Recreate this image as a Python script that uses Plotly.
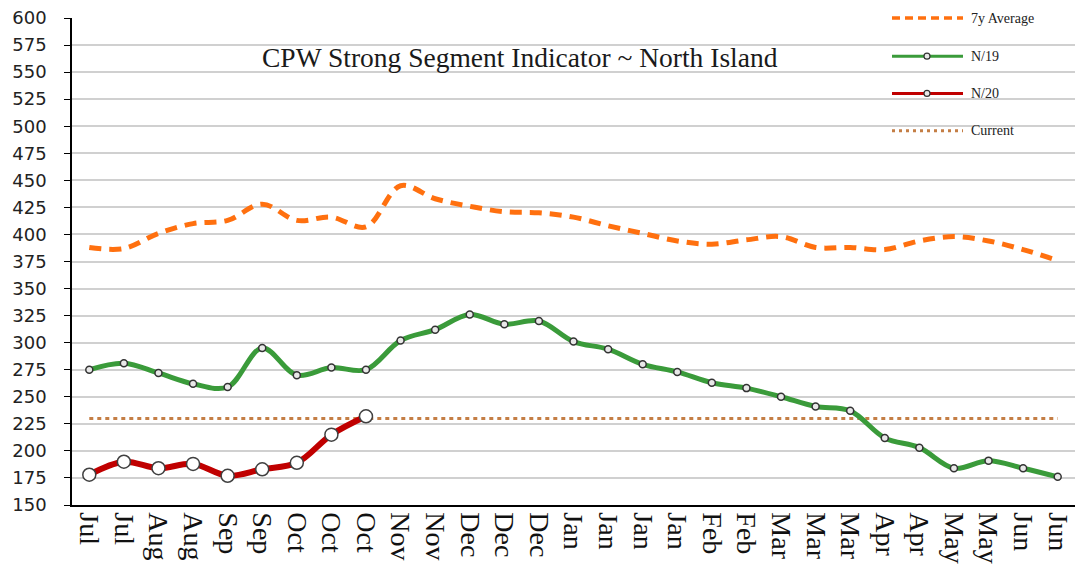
import plotly.graph_objects as go

labels = ["Jul", "Jul", "Aug", "Aug", "Sep", "Sep", "Oct", "Oct", "Oct", "Nov", "Nov",
          "Dec", "Dec", "Dec", "Jan", "Jan", "Jan", "Jan", "Feb", "Feb", "Mar", "Mar",
          "Mar", "Apr", "Apr", "May", "May", "Jun", "Jun"]

avg_7y = [388, 387, 401, 410, 413, 428, 413, 416, 407, 445, 433, 426, 421, 420, 416,
          408, 401, 394, 391, 395, 398, 388, 388, 386, 394, 398, 394, 386, 376]

n19 = [275, 281, 272, 262, 259, 295, 270, 277, 275, 302, 312, 326, 317, 320, 301,
       294, 280, 273, 263, 258, 250, 241, 237, 212, 203, 184, 191, 184, 176]

n20 = [178, 190, 184, 188, 177, 183, 189, 215, 232]

current_level = 230

title_text = "CPW Strong Segment Indicator ~ North Island"
legend_names = ["7y Average", "N/19", "N/20", "Current"]

ORANGE = "#FF700F"
GREEN = "#3A9B3A"
RED = "#C00000"
BROWN = "#C47E45"

x_all = list(range(len(labels)))

fig = go.Figure()

fig.add_trace(go.Scatter(
    x=x_all, y=[current_level] * len(labels), mode="lines",
    line=dict(color=BROWN, width=3, dash="4px,4px"), name=legend_names[3],
    showlegend=False))

fig.add_trace(go.Scatter(
    x=x_all, y=avg_7y, mode="lines",
    line=dict(color=ORANGE, width=5, shape="spline", smoothing=1.0, dash="12px,8px"),
    name=legend_names[0], showlegend=False))

fig.add_trace(go.Scatter(
    x=x_all, y=n19, mode="lines+markers",
    line=dict(color=GREEN, width=5, shape="spline", smoothing=1.0),
    marker=dict(size=7, color="#E8E8E8", line=dict(color="#333333", width=1.5)),
    name=legend_names[1], showlegend=False))

fig.add_trace(go.Scatter(
    x=x_all[:len(n20)], y=n20, mode="lines+markers",
    line=dict(color=RED, width=6, shape="spline", smoothing=1.0),
    marker=dict(size=13, color="white", line=dict(color="#404040", width=1.5)),
    name=legend_names[2], showlegend=False))

# page geometry (body margin removed, figure at 0,0)
W, H = 1081, 570
PLOT_L, PLOT_R, PLOT_T, PLOT_B = 72, 1075, 18, 515
L, R, T, B = PLOT_L, W - PLOT_R, PLOT_T, H - PLOT_B
pw = PLOT_R - PLOT_L
ph = PLOT_B - PLOT_T


def px_x(p):
    return (p - PLOT_L) / pw


def px_y(p):
    return (PLOT_B - p) / ph


shapes = []
# white box behind title
shapes.append(dict(type="rect", xref="paper", yref="paper",
                   x0=px_x(222), x1=px_x(795), y0=px_y(86), y1=px_y(34),
                   fillcolor="white", line=dict(width=0), layer="between"))
# white box behind legend
shapes.append(dict(type="rect", xref="paper", yref="paper",
                   x0=px_x(880), x1=px_x(1055), y0=px_y(146), y1=px_y(0),
                   fillcolor="white", line=dict(width=0), layer="between"))

leg_y = [18, 57, 95, 133]
leg_styles = [
    dict(color=ORANGE, width=3.5, dash="8px,5px"),
    dict(color=GREEN, width=3),
    dict(color=RED, width=3),
    dict(color=BROWN, width=3, dash="3px,4px"),
]
annotations = []
for yy, st, nm in zip(leg_y, leg_styles, legend_names):
    shapes.append(dict(type="line", xref="paper", yref="paper",
                       x0=px_x(892), x1=px_x(963), y0=px_y(yy), y1=px_y(yy),
                       line=st, layer="above"))
    annotations.append(dict(text=nm, xref="paper", yref="paper", x=px_x(969), y=px_y(yy),
                            xanchor="left", yanchor="middle", showarrow=False,
                            font=dict(family="Liberation Serif", size=14, color="#222222")))
for yy in [57, 95]:
    shapes.append(dict(type="circle", xref="paper", yref="paper", xsizemode="pixel",
                       ysizemode="pixel", xanchor=px_x(927), yanchor=px_y(yy),
                       x0=-3, x1=3, y0=-3, y1=3, fillcolor="#E8E8E8",
                       line=dict(color="#333333", width=1.2), layer="above"))

annotations.append(dict(text=title_text, xref="paper", yref="paper",
                        x=px_x(520), y=px_y(58), xanchor="center", yanchor="middle",
                        showarrow=False,
                        font=dict(family="Liberation Serif", size=27.5, color="#1a1a1a")))

fig.update_layout(
    width=W, height=H,
    margin=dict(l=L, r=R, t=T, b=B, pad=0),
    paper_bgcolor="white", plot_bgcolor="white",
    showlegend=False,
    shapes=shapes, annotations=annotations,
    xaxis=dict(range=[-0.5, len(labels) - 0.5], tickmode="array", tickvals=x_all,
               ticktext=labels, tickangle=90, ticks="", showgrid=False, zeroline=False,
               showline=True, linecolor="black", linewidth=1.5,
               ticklabeloverflow="allow",
               tickfont=dict(family="Liberation Serif", size=28, color="#111111")),
    xaxis2=dict(range=[-0.5, len(labels) - 0.5], overlaying="x", anchor="y", side="bottom",
                tickmode="array", tickvals=[i - 0.5 for i in range(len(labels) + 1)],
                ticks="outside", ticklen=6, tickwidth=1.2, tickcolor="black",
                showticklabels=False, showgrid=False, zeroline=False, showline=False),
    yaxis=dict(range=[150, 600], tickmode="linear", tick0=150, dtick=25,
               ticks="outside", ticklen=6, tickwidth=1.2, tickcolor="black",
               showline=True, linecolor="black", linewidth=1.5,
               gridcolor="#D0D0D0", gridwidth=1.5, zeroline=False,
               ticklabelstandoff=14, ticklabeloverflow="allow",
               tickfont=dict(family="DejaVu Sans", size=18, color="#222222")),
)

fig.write_html(
    "out.html",
    config={"displayModeBar": False},
    post_script="document.body.style.margin='0';document.body.style.padding='0';"
                "document.body.style.overflow='hidden';",
)
